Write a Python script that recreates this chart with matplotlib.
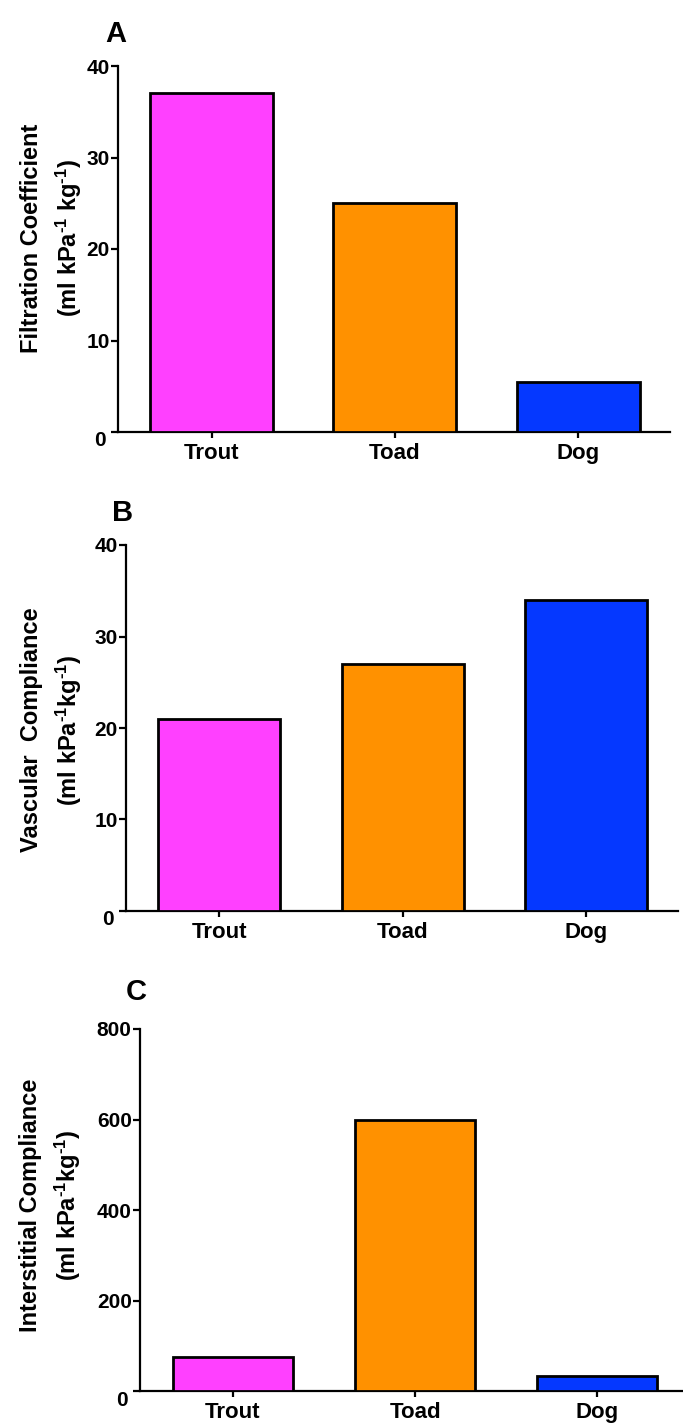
import numpy as np
import matplotlib.pyplot as plt

plt.rcParams.update({
    "font.family": ["Liberation Sans", "DejaVu Sans"],
    "font.weight": "bold",
    "mathtext.fontset": "custom",
    "mathtext.rm": "Liberation Sans:bold",
    "mathtext.it": "Liberation Sans:bold",
    "mathtext.bf": "Liberation Sans:bold",
    "mathtext.default": "rm",
})

species = ["Trout", "Toad", "Dog"]
colors = ["#FF40FF", "#FF9100", "#0538FF"]

filtration = [37, 25, 5.5]
vascular = [21, 27, 34]
interstitial = [75, 599, 33]

sup = r"$^{\text{-}1}$"
panels = [
    ("A", filtration, [0, 10, 20, 30, 40], "Filtration Coefficient\n(ml kPa" + sup + " kg" + sup + ")"),
    ("B", vascular, [0, 10, 20, 30, 40], "Vascular  Compliance\n(ml kPa" + sup + "kg" + sup + ")"),
    ("C", interstitial, [0, 200, 400, 600, 800], "Interstitial Compliance\n(ml kPa" + sup + "kg" + sup + ")"),
]

W, H = 683, 1425
fig = plt.figure(figsize=(W / 100, H / 100), dpi=100)

# axes boxes in pixels: left spine, right end, top, bottom
boxes = [(118, 670, 66, 432), (126, 678, 545, 911), (140, 683, 1029, 1391)]
xlims = [(-0.51, 2.5), (-0.507, 2.5), (-0.51, 2.47)]
widths = [0.67, 0.665, 0.66]
label_xy = [(-0.062, 0.53), (-0.076, 0.495), (-0.105, 0.514)]
letter_xy = [(116, 34), (123, 513), (136, 992)]

for (letter, vals, yt, ylab), (l, r, t, b), xl, bw, lxy, pxy in zip(
        panels, boxes, xlims, widths, label_xy, letter_xy):
    ax = fig.add_axes([l / W, 1 - b / H, (r - l) / W, (b - t) / H])
    x = np.arange(len(species))
    ax.bar(x, vals, width=bw, color=colors, edgecolor="black", linewidth=2, zorder=3)
    ax.set_xlim(*xl)
    ax.set_ylim(0, yt[-1])
    ax.set_yticks(yt)
    ax.set_yticklabels([""] + [str(v) for v in yt[1:]])
    ax.set_xticks(x)
    ax.set_xticklabels(species)
    for s in ["top", "right"]:
        ax.spines[s].set_visible(False)
    for s in ["left", "bottom"]:
        ax.spines[s].set_linewidth(1.6)
    ax.tick_params(axis="y", length=5, width=1.6, labelsize=15, pad=1)
    ax.tick_params(axis="x", length=4, width=1.6, labelsize=16, pad=4)
    ax.annotate("0", xy=(0, 0), xycoords="axes fraction", xytext=(-12, -9),
                textcoords="offset pixels", ha="right", va="center", fontsize=15,
                fontweight="bold")
    ax.set_ylabel(ylab, fontsize=17, fontweight="bold", linespacing=1.45)
    ax.yaxis.set_label_coords(*lxy)
    fig.text(pxy[0] / W, 1 - pxy[1] / H, letter, ha="center", va="center",
             fontsize=21, fontweight="bold")

fig.savefig("out.png", dpi=100)
